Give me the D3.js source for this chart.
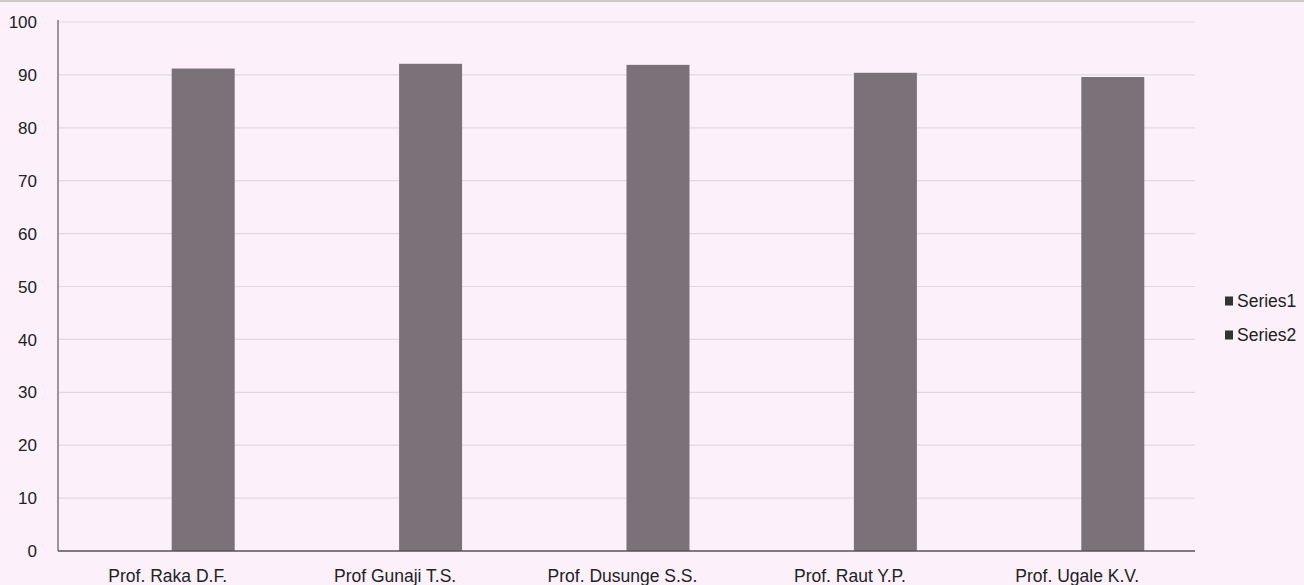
<!DOCTYPE html>
<html><head><meta charset="utf-8">
<script src="https://cdn.jsdelivr.net/npm/d3@7"></script>
<style>body{margin:0;background:#fcf1fa;}svg{display:block;font-family:"Liberation Sans",Arial,sans-serif;}</style>
</head><body><svg id="c" width="1304" height="585"></svg>
<script>
const categories = ["Prof. Raka D.F.", "Prof Gunaji T.S.", "Prof. Dusunge S.S.", "Prof. Raut Y.P.", "Prof. Ugale K.V."];
const seriesNames = ["Series1", "Series2"];
const series1 = [0, 0, 0, 0, 0];
const series2 = [91.2, 92.1, 91.9, 90.4, 89.6];
const yTicks = [0, 10, 20, 30, 40, 50, 60, 70, 80, 90, 100];

const svg = d3.select("#c");
const m = {l: 58, r: 109, t: 22, b: 34};
const W = 1304, H = 585;
const x0 = d3.scaleBand().domain(categories).range([m.l, W - m.r]).paddingInner(0).paddingOuter(0);
const y = d3.scaleLinear().domain([0, 100]).range([H - m.b, m.t]);
const bw = x0.bandwidth() * 0.277;
const x1 = d3.scaleBand().domain(seriesNames).range([x0.bandwidth()/2 - bw, x0.bandwidth()/2 + bw]);

svg.append("rect").attr("width", W).attr("height", H).attr("fill", "#fcf1fa");
svg.append("line").attr("x1", 0).attr("x2", W).attr("y1", 1).attr("y2", 1).attr("stroke", "#cfc8cd").attr("stroke-width", 2);

// gridlines
svg.append("g").selectAll("line").data(yTicks.filter(d => d > 0)).join("line")
  .attr("x1", m.l).attr("x2", W - m.r).attr("y1", d => y(d)).attr("y2", d => y(d))
  .attr("stroke", "#e3d8e0").attr("stroke-width", 1.2);

// y labels
svg.append("g").selectAll("text").data(yTicks).join("text")
  .attr("x", 37).attr("y", d => y(d)).attr("dy", "0.36em").attr("text-anchor", "end")
  .attr("font-size", 17).attr("fill", "#222").text(d => d);

const data = [series1, series2];
const colors = ["#4a4448", "#7a7179"];
const g = svg.append("g");
categories.forEach((c, i) => {
  seriesNames.forEach((s, j) => {
    const v = data[j][i];
    g.append("rect").attr("x", x0(c) + x1(s)).attr("width", x1.bandwidth())
      .attr("y", y(v)).attr("height", y(0) - y(v)).attr("fill", colors[j]);
  });
});

// axes lines
svg.append("line").attr("x1", m.l).attr("x2", m.l).attr("y1", y(100) - 2).attr("y2", y(0))
  .attr("stroke", "#666").attr("stroke-width", 1.3);
svg.append("line").attr("x1", m.l).attr("x2", W - m.r).attr("y1", y(0)).attr("y2", y(0))
  .attr("stroke", "#555").attr("stroke-width", 1.5);

// x labels
svg.append("g").selectAll("text").data(categories).join("text")
  .attr("x", d => x0(d) + x0.bandwidth()/2 - 4).attr("y", 582).attr("text-anchor", "middle")
  .attr("font-size", 17.5).attr("fill", "#222").text(d => d);

// legend
const leg = svg.append("g");
seriesNames.forEach((s, j) => {
  const ly = 301 + j * 34;
  leg.append("rect").attr("x", 1225).attr("y", ly - 4.5).attr("width", 8).attr("height", 9).attr("fill", "#333");
  leg.append("text").attr("x", 1237).attr("y", ly).attr("dy", "0.36em").attr("font-size", 17.5).attr("fill", "#222").text(s);
});
</script></body></html>
